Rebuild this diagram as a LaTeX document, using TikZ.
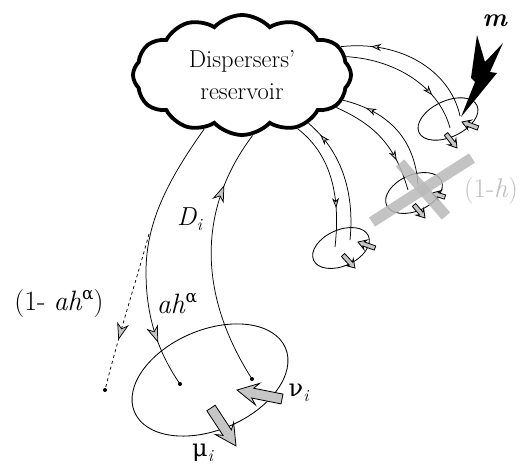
\documentclass[tikz,border=0pt]{standalone}
\usepackage{fontspec}
\newfontfamily\grk{DejaVu Serif}
\usetikzlibrary{shapes.symbols,shapes.geometric,arrows.meta,decorations.markings,calc}
\newcommand{\mysub}[1]{{\fontsize{17}{17}\selectfont\raisebox{-5pt}{#1}}}
\newcommand{\mysup}[1]{{\fontsize{17}{17}\selectfont\raisebox{11pt}{#1}}}
% tail, tip, shaft half width, head half width, shaft-join distance, corner distance
\newcommand{\blkarrow}[6]{%
  \coordinate (hbtmp) at ($(#2)!#5!(#1)$);
  \coordinate (hktmp) at ($(#2)!#6!(#1)$);
  \draw[blockarr] ($(#1)!#3!90:(#2)$) -- ($(hbtmp)!#3!90:(#2)$) -- ($(hktmp)!#4!90:(#2)$) -- (#2)
    -- ($(hktmp)!#4!-90:(#2)$) -- ($(hbtmp)!#3!-90:(#2)$) -- ($(#1)!#3!-90:(#2)$) -- cycle;}
\tikzset{
  bigtip/.tip={Stealth[length=17pt,width=12pt,inset=5pt,fill=gray!45]},
  smalltip/.tip={Stealth[length=10pt,width=7pt,inset=3pt,fill=gray!45]},
}
\begin{document}
\begin{tikzpicture}[x=1pt,y=1pt,
  lbl/.style={inner sep=0pt, font=\fontsize{26}{30}\selectfont},
  curve/.style={line width=0.75pt},
  ell/.style={draw, ellipse, line width=0.85pt, inner sep=0pt},
  dot/.style={circle, fill, inner sep=0pt, minimum size=4pt},
  blockarr/.style={draw=black, fill=gray!45, line width=0.8pt, line join=miter},
  xstroke/.style={line width=11pt, draw=gray!55, opacity=0.85},
  tipat/.style={postaction={decorate}, decoration={markings, mark=at position #1 with {\arrow{bigtip}}}},
  tipback/.style={postaction={decorate}, decoration={markings, mark=at position #1 with {\arrowreversed{bigtip}}}},
  stipat/.style={postaction={decorate}, decoration={markings, mark=at position #1 with {\arrow{smalltip}}}},
  stipback/.style={postaction={decorate}, decoration={markings, mark=at position #1 with {\arrowreversed{smalltip}}}},
]
\useasboundingbox (0,0) rectangle (525,-471);

% reservoir cloud
\node[cloud, draw, line width=3.8pt, cloud puffs=12, cloud puff arc=95, cloud ignores aspect,
      minimum width=218pt, minimum height=120pt, align=center, inner sep=0pt,
      font=\fontsize{24.5}{32}\selectfont] (cl) at (242,-75) {Dispersers'\\reservoir};

% big patch
\node[ell, minimum width=164pt, minimum height=100pt, rotate=23] (E) at (210,-380) {};
\node[dot] (d1) at (180,-384) {};
\node[dot] (d2) at (252,-379) {};
\node[dot] (d3) at (105,-390) {};
\coordinate (br) at (149,-234);

% small patches
\node[ell, minimum width=64pt, minimum height=36pt, rotate=25] (EA) at (448,-119) {};
\node[ell, minimum width=60pt, minimum height=36pt, rotate=24] (EB) at (414,-193) {};
\node[ell, minimum width=60pt, minimum height=36pt, rotate=24] (EC) at (341,-248) {};
\coordinate (a1) at (450,-128);
\coordinate (a2) at (460,-116);
\coordinate (b1) at (408,-190);
\coordinate (b2) at (418,-185);
\coordinate (c1) at (335,-247);
\coordinate (c2) at (350,-240);

% main connectors
\draw[curve, tipat=0.83] (cl.235) .. controls (168,-180) and (146,-222) .. (146,-272)
   .. controls (146,-320) and (160,-355) .. (d1.center);
\draw[curve, tipback=0.22] (cl.280) .. controls (200,-205) and (195,-290) .. (d2.center);
\draw[curve, dashed, tipat=0.68] (br) .. controls (138,-275) and (120,-330) .. (d3.center);

% small connectors
\draw[curve, stipat=0.7] (cl.316) .. controls (325,-150) and (342,-185) .. (c1);
\draw[curve, stipback=0.13] (cl.324) .. controls (340,-150) and (355,-190) .. (c2);
\draw[curve, stipat=0.72] (cl.341) .. controls (375,-125) and (395,-145) .. (b1);
\draw[curve, stipback=0.2] (cl.346) .. controls (390,-112) and (415,-140) .. (b2);
\draw[curve, stipat=0.72] (cl.10) .. controls (400,-60) and (440,-90) .. (a1);
\draw[curve, stipback=0.2] (cl.16) .. controls (400,-40) and (450,-70) .. (a2);

% block arrows (emigration / immigration)
\coordinate (nuT) at (282,-399); \coordinate (nuH) at (237,-390);
\coordinate (muT) at (211,-408); \coordinate (muH) at (236,-446);
\blkarrow{nuT}{nuH}{5pt}{11pt}{16pt}{21pt}
\blkarrow{muT}{muH}{5pt}{11pt}{16pt}{21pt}
\coordinate (aT1) at (478,-128); \coordinate (aH1) at (462,-122);
\coordinate (aT2) at (446,-134); \coordinate (aH2) at (457,-148);
\coordinate (bT1) at (445,-197); \coordinate (bH1) at (432,-193);
\coordinate (bT2) at (414,-205); \coordinate (bH2) at (425,-218);
\coordinate (cT1) at (375,-248); \coordinate (cH1) at (358,-242);
\coordinate (cT2) at (343,-255); \coordinate (cH2) at (355,-268);
\blkarrow{aT1}{aH1}{2.2pt}{5pt}{6pt}{8pt}
\blkarrow{aT2}{aH2}{2.2pt}{5pt}{6pt}{8pt}
\blkarrow{bT1}{bH1}{2.2pt}{5pt}{6pt}{8pt}
\blkarrow{bT2}{bH2}{2.2pt}{5pt}{6pt}{8pt}
\blkarrow{cT1}{cH1}{2.2pt}{5pt}{6pt}{8pt}
\blkarrow{cT2}{cH2}{2.2pt}{5pt}{6pt}{8pt}

% gray cross over destroyed patch
\draw[xstroke] (372,-222) -- (472,-158);
\draw[xstroke] (400,-163) -- (446,-216);

% lightning bolt
\fill (477,-35) -- (485,-62) -- (503,-43) -- (490,-72) -- (497,-73) -- (461,-117)
   -- (475,-82) -- (471,-78) -- cycle;

% labels
\node[lbl] (lD) at (190,-219) {\textit{D}\mysub{\textit{i}}};
\node[lbl, font=\fontsize{28}{30}\selectfont] (lah) at (177,-304) {\textit{ah}\mysup{\grk α}};
\node[lbl, font=\fontsize{28}{30}\selectfont] (l1ah) at (59,-304) {(1-\hspace{8pt}\textit{ah}\mysup{\grk α})};
\node[lbl] (lmu) at (203,-453) {{\grk\fontsize{24}{24}\selectfont μ}\mysub{\textit{i}}};
\node[lbl] (lnu) at (299,-393) {{\grk\fontsize{24}{24}\selectfont ν}\mysub{\textit{i}}};
\node[lbl] (lm) at (495,-21) {\textbf{\textit{m}}};
\node[lbl, text=gray!50, font=\fontsize{27}{30}\selectfont] (lh) at (491,-191) {(1-\textit{h})};
\end{tikzpicture}
\end{document}
